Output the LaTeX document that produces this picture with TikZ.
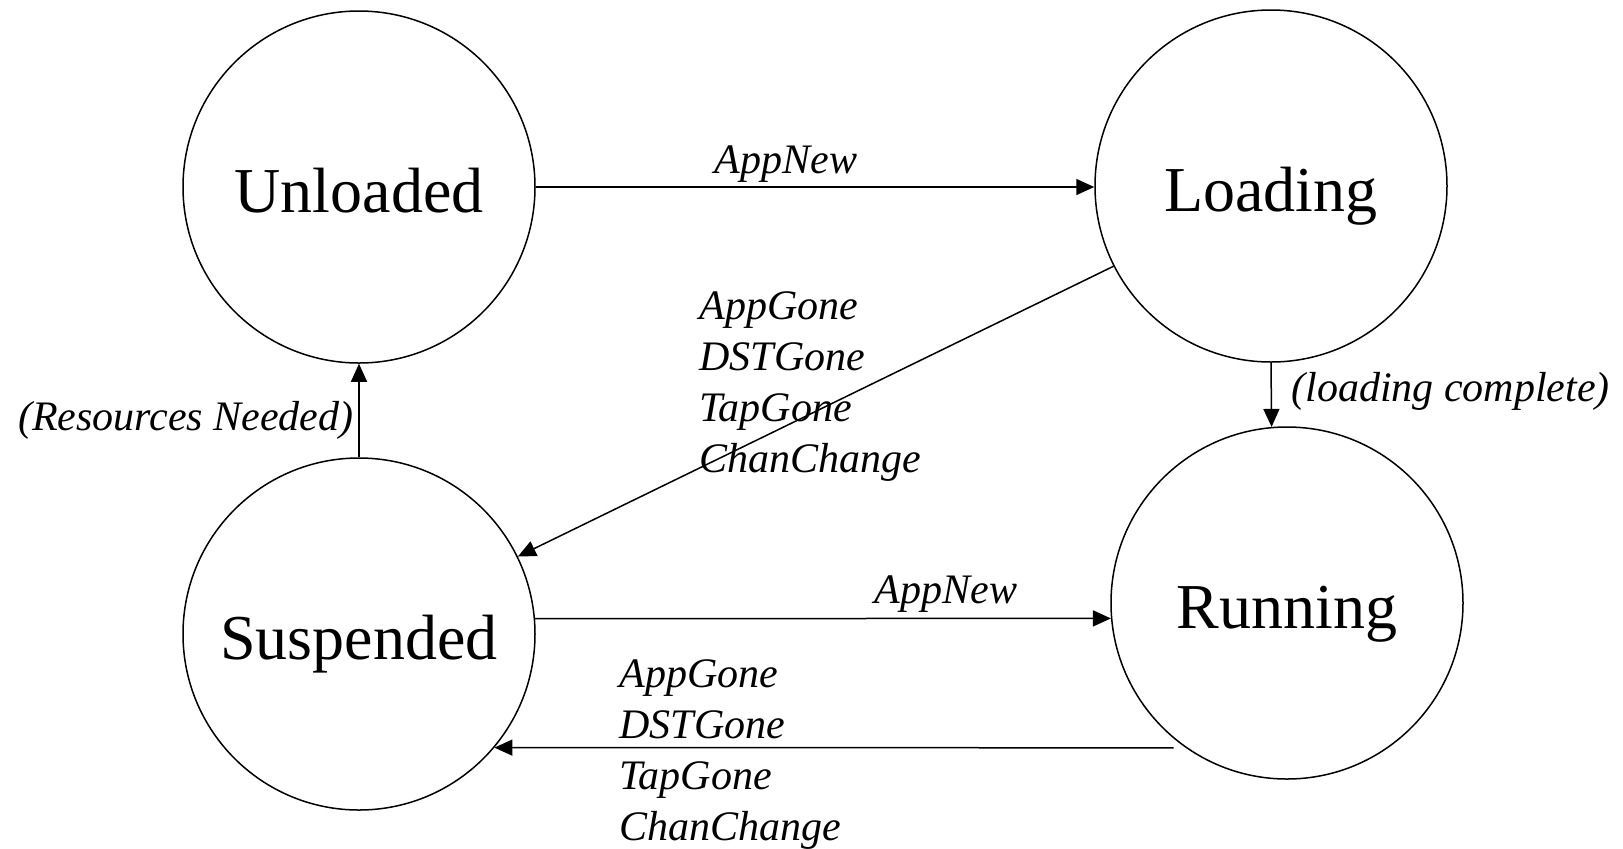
\documentclass[tikz,border=0pt]{standalone}
\usepackage{fontspec}
\setmainfont{Liberation Serif}
\usetikzlibrary{calc,arrows.meta}

\begin{document}
\begin{tikzpicture}[
  x=0.5pt, y=-0.5pt,
  >={Triangle[length=9pt,width=8pt]},
  statecirc/.style={draw, circle, line width=0.75pt, minimum size=176pt,
    inner sep=0pt, text height=25.5pt, text depth=0pt,
    font=\fontsize{32}{38}\selectfont},
  pointer/.style={->, line width=0.75pt},
  event/.style={font=\fontsize{21}{25.5}\selectfont\itshape, inner sep=0pt,
    align=left}
]

\useasboundingbox (0,0) rectangle (1623,848);

% --- State drawing helper: name, x, y, title ---
\newcommand{\StateNode}[4]{%
  \node[statecirc] (#1) at (#2,#3) {#4};
}

% --- Draw states ---
\StateNode{Unloaded}{359}{187}{Unloaded}
\StateNode{Loading}{1271}{186}{Loading}
\StateNode{Running}{1287}{603}{Running}
\StateNode{Suspended}{359}{634}{Suspended}

% --- Transitions ---
\draw[pointer] (Unloaded.east) -- (Unloaded.east -| Loading.west);
\draw[pointer] (Loading.207) -- (Suspended.26.5);
\draw[pointer] (Loading.south) -- (Running.95);
\draw[pointer] (Suspended.north) -- (Unloaded.south);
\draw[pointer] (Suspended.5) -- (Running.185);
\draw[pointer, shorten <=6pt] (Running.235) -- (Suspended.320);

% --- Event labels ---
\node[event, anchor=base] (newTop) at (786,173) {AppNew};
\node[event, anchor=base] (newBot) at (946,603) {AppNew};
\node[event, anchor=north west] (goneTop) at (699,291)
  {AppGone\\DSTGone\\TapGone\\ChanChange};
\node[event, anchor=north west] (goneBot) at (619,659)
  {AppGone\\DSTGone\\TapGone\\ChanChange};
\node[event, anchor=base west] (loadDone) at (1291,401) {(loading complete)};
\node[event, anchor=base east] (resNeed) at (354,430) {(Resources Needed)};

\end{tikzpicture}
\end{document}
